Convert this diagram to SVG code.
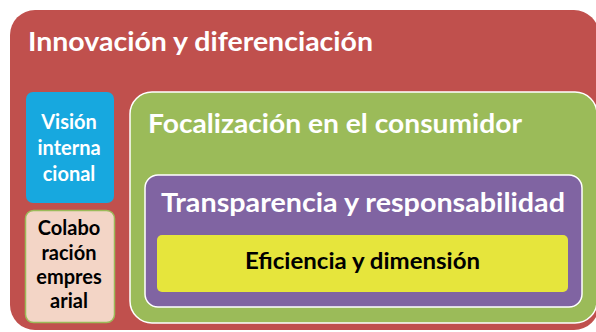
<svg xmlns="http://www.w3.org/2000/svg" width="596" height="332" viewBox="0 0 596 332">
<style>
.t{font-family:Lato,"Open Sans","Liberation Sans",sans-serif;font-weight:bold}
.w{fill:#fff}
.k{fill:#000}
</style>
<rect width="596" height="332" fill="#fff"/>
<g id="innovacion">
<rect x="10" y="10" width="589" height="320" rx="25" fill="#C0504D"/>
<text class="t w" x="28" y="51" font-size="26" textLength="345" lengthAdjust="spacingAndGlyphs">Innovación y diferenciación</text>
</g>
<g id="vision">
<rect x="26" y="92" width="88" height="111" rx="7" fill="#17A8DF"/>
<text class="t w" font-size="20" text-anchor="middle"><tspan x="69" y="129">Visión</tspan><tspan x="69" y="155">interna</tspan><tspan x="69" y="181">cional</tspan></text>
</g>
<g id="colaboracion">
<rect x="25.5" y="210.5" width="89" height="112" rx="8" fill="#F3D5C6" stroke="#9BBB59" stroke-width="1.5"/>
<text class="t k" font-size="20" text-anchor="middle"><tspan x="69" y="235">Colabo</tspan><tspan x="69" y="260">ración</tspan><tspan x="69" y="284">empres</tspan><tspan x="69" y="308">arial</tspan></text>
</g>
<g id="focalizacion">
<rect x="130" y="92" width="467" height="231" rx="22" fill="#9BBB59" stroke="#fff" stroke-width="1.5"/>
<text class="t w" x="148" y="133" font-size="26" textLength="374" lengthAdjust="spacingAndGlyphs">Focalización en el consumidor</text>
</g>
<g id="transparencia">
<rect x="145" y="175" width="437" height="132" rx="13" fill="#8064A2" stroke="#fff" stroke-width="1.5"/>
<text class="t w" x="161" y="212" font-size="26" textLength="404" lengthAdjust="spacingAndGlyphs">Transparencia y responsabilidad</text>
</g>
<g id="eficiencia">
<rect x="157" y="235" width="411" height="57" rx="5" fill="#E6E53C"/>
<text class="t k" x="245" y="269" font-size="22" textLength="235" lengthAdjust="spacingAndGlyphs">Eficiencia y dimensión</text>
</g>
<g id="connectors"/>
</svg>
